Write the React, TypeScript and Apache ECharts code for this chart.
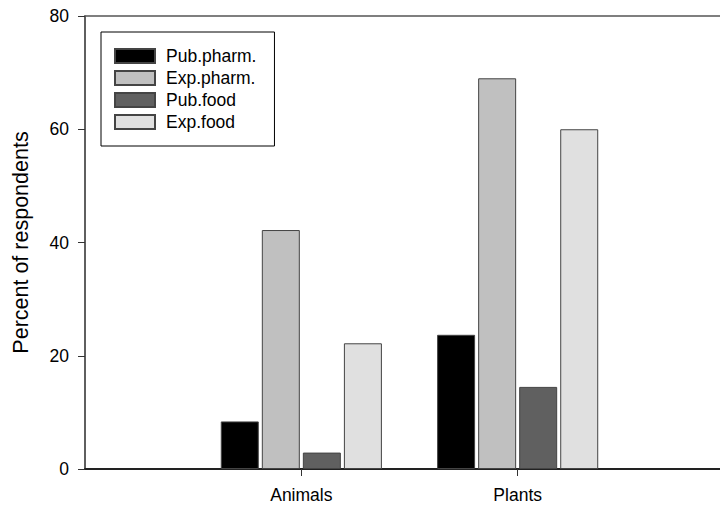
import React, { useEffect, useRef } from "react";
import * as echarts from "echarts";

const categories = ["", "Animals", "Plants", ""];
const seriesNames = ["Pub.pharm.", "Exp.pharm.", "Pub.food", "Exp.food"];
const pubPharm = [8.4, 23.7];
const expPharm = [42.2, 69.0];
const pubFood = [2.9, 14.5];
const expFood = [22.2, 60.0];
const yTicks = [0, 20, 40, 60, 80];

const colors = ["#000000", "#c0c0c0", "#606060", "#e0e0e0"];
const FONT = "'Liberation Sans', Arial, sans-serif";

export default function App() {
  const ref = useRef<HTMLDivElement>(null);
  useEffect(() => {
    if (!ref.current) return;
    const chart = echarts.init(ref.current, undefined, { renderer: "svg" });
    const values = [pubPharm, expPharm, pubFood, expFood];
    chart.setOption({
      animation: false,
      backgroundColor: "#ffffff",
      grid: {
        left: 85,
        top: 16,
        height: 453,
        width: 649,
        outerBoundsMode: "none",
        containLabel: false,
        show: true,
        borderColor: "#555",
        borderWidth: 1.5,
      },
      legend: {
        orient: "vertical",
        left: 101,
        top: 32,
        padding: [15, 18, 15, 13],
        itemWidth: 40,
        itemHeight: 14,
        itemGap: 4,
        backgroundColor: "#ffffff",
        borderColor: "#000",
        borderWidth: 1,
        borderRadius: 0,
        icon: "rect",
        textStyle: {
          fontFamily: FONT,
          fontSize: 17.5,
          lineHeight: 17,
          color: "#000",
          padding: [0, 0, 0, 6],
        },
        data: seriesNames,
      },
      xAxis: {
        type: "category",
        data: categories,
        boundaryGap: false,
        axisLine: { lineStyle: { color: "#222", width: 2 } },
        axisTick: {
          show: true,
          length: 7,
          interval: (_i: number, v: string) => v !== "",
          lineStyle: { color: "#333", width: 1 },
        },
        axisLabel: {
          fontFamily: FONT,
          fontSize: 17.5,
          color: "#000",
          margin: 17,
          interval: 0,
        },
        splitLine: { show: false },
      },
      yAxis: {
        type: "value",
        min: yTicks[0],
        max: yTicks[yTicks.length - 1],
        interval: 20,
        name: "Percent of respondents",
        nameLocation: "middle",
        nameGap: 53,
        nameTextStyle: { fontFamily: FONT, fontSize: 21.5, color: "#000" },
        axisLine: { show: true, lineStyle: { color: "#555", width: 1.5 } },
        axisTick: { show: true, length: 7, lineStyle: { color: "#333", width: 1 } },
        axisLabel: { fontFamily: FONT, fontSize: 17.5, color: "#000", margin: 16 },
        splitLine: { show: false },
      },
      series: seriesNames.map((name, i) => ({
        name,
        type: "bar",
        barWidth: 38,
        barGap: "8%",
        data: ["-", ...values[i], "-"],
        itemStyle: { color: colors[i], borderColor: "#444", borderWidth: 1 },
      })),
    });
    return () => chart.dispose();
  }, []);
  return (
    <div
      ref={ref}
      style={{ position: "absolute", left: 0, top: 0, width: 720, height: 507 }}
    />
  );
}
